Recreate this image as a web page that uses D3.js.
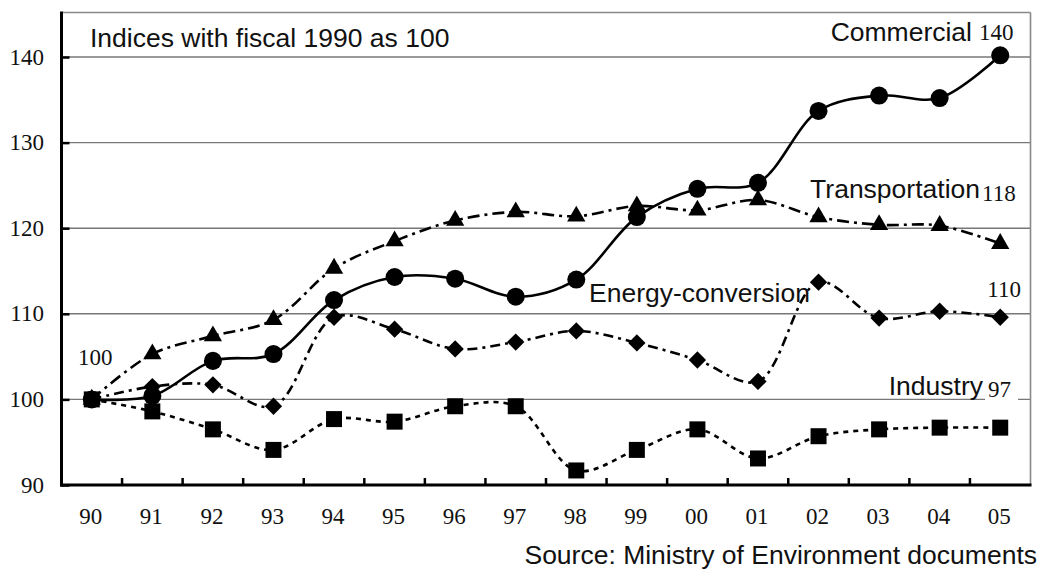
<!DOCTYPE html>
<html>
<head>
<meta charset="utf-8">
<script src="https://cdn.jsdelivr.net/npm/d3@7/dist/d3.min.js"></script>
<style>
  html, body { margin: 0; padding: 0; background: #fff; }
  svg { display: block; }
</style>
</head>
<body>
<svg id="chart" width="1042" height="569"></svg>
<script>
// ---- data ----
const years = ["90","91","92","93","94","95","96","97","98","99","00","01","02","03","04","05"];
const commercial     = [100, 100.4, 104.5, 105.3, 111.6, 114.3, 114.1, 112.0, 114.0, 121.3, 124.6, 125.3, 133.7, 135.5, 135.2, 140.2];
const transportation = [100, 105.3, 107.4, 109.3, 115.3, 118.5, 120.9, 121.9, 121.4, 122.6, 122.1, 123.3, 121.3, 120.4, 120.3, 118.2];
const energyConv     = [100, 101.5, 101.7, 99.2, 109.6, 108.2, 105.9, 106.7, 108.0, 106.6, 104.6, 102.1, 113.7, 109.5, 110.3, 109.6];
const industry       = [100, 98.6, 96.5, 94.1, 97.7, 97.4, 99.2, 99.2, 91.7, 94.1, 96.5, 93.1, 95.7, 96.5, 96.7, 96.7];
const yTicks = [90, 100, 110, 120, 130, 140];
const seriesNames = ["Commercial", "Transportation", "Energy-conversion", "Industry"];
const endLabels = ["140", "118", "110", "97"];
const startLabel = "100";
const noteText = "Indices with fiscal 1990 as 100";
const sourceText = "Source: Ministry of Environment documents";

// ---- layout ----
const svg = d3.select("#chart");
const L = 61.5, R = 1030.5, T = 12.5, B = 485;
const SANS = "'Liberation Sans', Arial, sans-serif";
const SERIF = "'Liberation Serif', 'Times New Roman', serif";
const SANS_SIZE = 26.5, SERIF_SIZE = 23;

const xBand = d3.scaleBand().domain(years).range([L, R]).paddingInner(0).paddingOuter(0);
const x = d => xBand(d) + xBand.bandwidth() / 2;
const y = d3.scaleLinear().domain([90, 145.2]).range([B, T]);

// gridlines
svg.append("g").selectAll("line").data(yTicks.filter(v => v > 90)).join("line")
  .attr("x1", L).attr("x2", R).attr("y1", d => y(d)).attr("y2", d => y(d))
  .attr("stroke", "#777").attr("stroke-width", 1.4);
// top and right frame
svg.append("line").attr("x1", L).attr("x2", R).attr("y1", T).attr("y2", T).attr("stroke", "#888").attr("stroke-width", 1.6);
svg.append("line").attr("x1", R).attr("x2", R).attr("y1", T).attr("y2", B).attr("stroke", "#888").attr("stroke-width", 1.6);

// y axis
const yAxis = d3.axisRight(y).tickValues(yTicks).tickSize(8).tickFormat("");
const gy = svg.append("g").attr("transform", `translate(${L},0)`).call(yAxis);
gy.select(".domain").remove();
gy.selectAll(".tick line").attr("stroke", "#000").attr("stroke-width", 2.5);
svg.append("g").selectAll("text").data(yTicks).join("text")
  .attr("x", 44).attr("y", d => y(d) + 7.5)
  .attr("text-anchor", "end").attr("font-family", SERIF).attr("font-size", SERIF_SIZE).attr("fill", "#111")
  .text(d => d);

// x axis: ticks at band boundaries
const bounds = years.slice(1).map(d => xBand(d));
svg.append("g").selectAll("line").data(bounds).join("line")
  .attr("x1", d => d).attr("x2", d => d).attr("y1", B).attr("y2", B - 7)
  .attr("stroke", "#000").attr("stroke-width", 2.5);
svg.append("g").selectAll("text").data(years).join("text")
  .attr("x", d => x(d) - 1).attr("y", 523.5)
  .attr("text-anchor", "middle").attr("font-family", SERIF).attr("font-size", SERIF_SIZE).attr("fill", "#111")
  .text(d => d);

// axis lines
svg.append("line").attr("x1", L).attr("x2", L).attr("y1", T - 1).attr("y2", B + 1.5).attr("stroke", "#000").attr("stroke-width", 3);
svg.append("line").attr("x1", L - 1.5).attr("x2", R + 1).attr("y1", B).attr("y2", B).attr("stroke", "#000").attr("stroke-width", 3);

// ---- annotations ----
function sans(txt, xx, yy, anchor) {
  return svg.append("text").attr("x", xx).attr("y", yy).attr("text-anchor", anchor || "start")
    .attr("font-family", SANS).attr("font-size", SANS_SIZE).attr("fill", "#111").text(txt);
}
function serif(txt, xx, yy, anchor) {
  return svg.append("text").attr("x", xx).attr("y", yy).attr("text-anchor", anchor || "start")
    .attr("font-family", SERIF).attr("font-size", SERIF_SIZE).attr("fill", "#111").text(txt);
}
sans(noteText, 90, 47);
sans(sourceText, 1037, 564, "end");

// series names and end values
sans(seriesNames[0], 972, 40.5, "end");
serif(endLabels[0], 979, 40);
sans(seriesNames[1], 980, 197.5, "end");
serif(endLabels[1], 982, 201);
sans(seriesNames[2], 589, 302);
serif(endLabels[2], 1021, 297, "end");
sans(seriesNames[3], 983, 395, "end");
svg.append("rect").attr("x", 985).attr("y", y(100) - 22).attr("width", 33).attr("height", 25).attr("fill", "#fff");
serif(endLabels[3], 988, 397);
serif(startLabel, 78, 365);

// ---- series ----
const line = d3.line().x((d, i) => x(years[i])).y(d => y(d)).curve(d3.curveCatmullRom.alpha(0.5));
const defs = [
  { data: commercial,     dash: null,          sym: d3.symbolCircle,   size: 255, rot: 0 },
  { data: transportation, dash: "12,5,3,5",    sym: d3.symbolTriangle, size: 145, rot: 0 },
  { data: energyConv,     dash: "10,5,3,5",    sym: d3.symbolSquare,   size: 150, rot: 45 },
  { data: industry,       dash: "5,5",         sym: d3.symbolSquare,   size: 256, rot: 0 }
];
defs.slice().reverse().forEach(s => {
  svg.append("path").attr("d", line(s.data)).attr("fill", "none")
    .attr("stroke", "#000").attr("stroke-width", 2.6)
    .attr("stroke-dasharray", s.dash);
});
defs.forEach(s => {
  svg.append("g").selectAll("path").data(s.data).join("path")
    .attr("d", d3.symbol().type(s.sym).size(s.size))
    .attr("transform", (d, i) => `translate(${x(years[i])},${y(d)}) rotate(${s.rot})`)
    .attr("fill", "#000");
});
</script>
</body>
</html>
